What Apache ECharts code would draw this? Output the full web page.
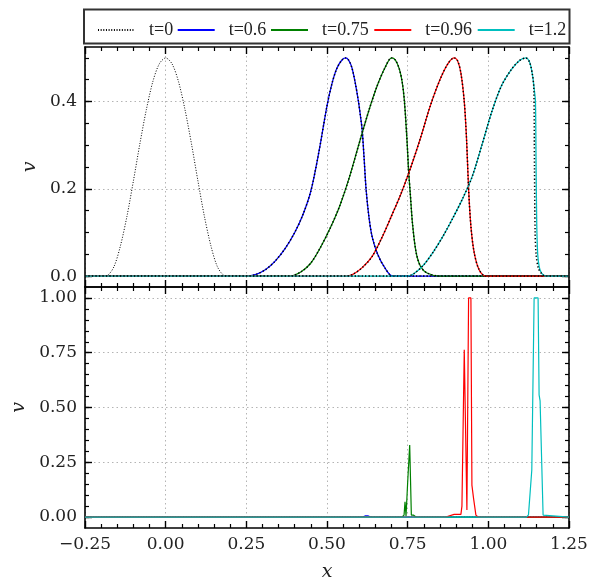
<!DOCTYPE html>
<html><head><meta charset="utf-8">
<script src="https://cdn.jsdelivr.net/npm/echarts@6/dist/echarts.min.js"></script>
<style>html,body{margin:0;padding:0;background:#fff}#c{width:606px;height:583px}</style>
</head><body><div id="c"></div>
<script>
// ---------- data ----------
const seriesNames = ['t=0', 't=0.6', 't=0.75', 't=0.96', 't=1.2'];
const xTickLabels = ['−0.25', '0.00', '0.25', '0.50', '0.75', '1.00', '1.25'];
const topYTicks = [0, 0.2, 0.4];
const topYMinor = [0,0.05,0.1,0.15,0.2,0.25,0.3,0.35,0.4,0.45,0.5];
const botYTicks = [0, 0.25, 0.5, 0.75, 1.0];
const botYMinor = [0,0.05,0.1,0.15,0.2,0.25,0.3,0.35,0.4,0.45,0.5,0.55,0.6,0.65,0.7,0.75,0.8,0.85,0.9,0.95,1.0];

// top panel: v(x)
const t0X = [-0.25,-0.2,-0.18,-0.16,-0.14,-0.12,-0.1,-0.08,-0.06,-0.04,-0.02,0,0.02,0.04,0.06,0.08,0.1,0.12,0.14,0.16,0.18,0.2,1.25];
const t0V = [0,0,0.002,0.022,0.07,0.137,0.218,0.303,0.381,0.445,0.486,0.5,0.486,0.445,0.381,0.303,0.218,0.137,0.07,0.022,0.002,0,0];

const t06X = [-0.25,0.25,0.28,0.31,0.34,0.37,0.40,0.425,0.45,0.475,0.50,0.515,0.53,0.545,0.557,0.567,0.577,0.587,0.5975,0.604,0.609,0.615,0.621,0.63,0.64,0.657,0.68,0.704,1.25];
const t06V = [0,0,0.004,0.015,0.035,0.063,0.1,0.14,0.195,0.285,0.39,0.44,0.475,0.494,0.5,0.495,0.478,0.445,0.4,0.365,0.335,0.27,0.2,0.135,0.09,0.05,0.018,0,0];

const t075X = [-0.25,0.384,0.42,0.45,0.48,0.51,0.54,0.57,0.60,0.63,0.655,0.68,0.70,0.712,0.724,0.733,0.74,0.748,0.753,0.758,0.765,0.776,0.79,0.81,0.848,1.25];
const t075V = [0,0,0.01,0.03,0.066,0.11,0.162,0.228,0.305,0.38,0.435,0.478,0.5,0.495,0.475,0.445,0.4,0.31,0.24,0.19,0.12,0.055,0.022,0.007,0,0];

const t096X = [-0.25,0.559,0.58,0.61,0.64,0.67,0.70,0.73,0.76,0.79,0.82,0.85,0.875,0.8945,0.905,0.915,0.9254,0.9326,0.9388,0.946,0.9563,0.9718,0.9924,1.25];
const t096V = [0,0,0.004,0.02,0.045,0.088,0.138,0.19,0.25,0.317,0.39,0.45,0.487,0.5,0.493,0.465,0.4,0.312,0.2,0.114,0.053,0.014,0,0];

const t12X = [-0.25,0.749,0.77,0.80,0.83,0.86,0.89,0.92,0.95,0.98,1.01,1.04,1.07,1.095,1.116,1.128,1.137,1.142,1.146,1.148,1.150,1.153,1.158,1.165,1.178,1.25];
const t12V = [0,0,0.006,0.026,0.056,0.092,0.133,0.177,0.228,0.3,0.375,0.435,0.472,0.493,0.5,0.49,0.46,0.43,0.4,0.25,0.12,0.05,0.02,0.007,0,0];
// exact (dotted) solution at t=1.2 where it separates from the computed one
const t12ExX = [-0.25,0.749,0.77,0.80,0.83,0.86,0.89,0.92,0.95,0.98,1.01,1.04,1.07,1.095,1.116,1.128,1.137,1.141,1.143,1.145,1.148,1.155,1.165,1.178,1.25];
const t12ExV = [0,0,0.006,0.026,0.056,0.092,0.133,0.177,0.228,0.3,0.375,0.435,0.472,0.493,0.5,0.49,0.46,0.43,0.25,0.1,0.05,0.018,0.006,0,0];

// bottom panel
const b0X = [-0.25, 1.25];
const b0V = [0, 0];
const b06X = [-0.25,0.61,0.618,0.628,0.636,1.25];
const b06V = [0,0,0.005,0.005,0,0];
const b075X = [-0.25,0.7326,0.7388,0.7418,0.7449,0.7501,0.7521,0.7563,0.7614,0.7676,0.7758,1.25];
const b075V = [0,0,0.009,0.07,0.005,0.1615,0.154,0.329,0.009,0.009,0,0];
const b096X = [-0.25,0.868,0.872,0.894,0.915,0.9182,0.9254,0.9336,0.9388,0.946,0.9491,0.9542,0.9615,0.968,1.25];
const b096V = [0,0,0.008,0.012,0.012,0.05,0.764,0.032,1.0,1.0,0.146,0.085,0.009,0,0];
const b12X = [-0.25,1.118,1.1244,1.1347,1.1419,1.1542,1.1573,1.1604,1.1697,1.1738,1.25];
const b12V = [0,0,0.01,0.215,1.0,1.0,0.558,0.53,0.009,0,0];

// ---------- chart ----------
const FONT = 'DejaVu Serif';
const LFONT = 'Liberation Serif';
const colors = ['#000000', '#0000ff', '#008000', '#ff0000', '#00bfbf'];
const pairs = (xs, vs) => xs.map((x, i) => [x, vs[i]]);
const fmtX = v => { const i = Math.round((v + 0.25) / 0.25); return xTickLabels[i] !== undefined ? xTickLabels[i] : ''; };

function xAx(grid, pos, labels, split) {
  return {
    type: 'value', gridIndex: grid, position: pos, min: -0.25, max: 1.25, interval: 0.25,
    axisLine: { show: true, onZero: false, lineStyle: { color: '#000', width: 1.6 } },
    axisTick: { show: true, inside: true, length: 7, lineStyle: { color: '#000', width: 1.4 } },
    minorTick: { show: true, splitNumber: 5, length: 4, lineStyle: { color: '#000', width: 1.2 } },
    axisLabel: { show: labels, formatter: fmtX, margin: 8, fontFamily: FONT, fontSize: 17, color: '#222' },
    splitLine: { show: split, lineStyle: { color: '#b4b4b4', width: 1, type: [1.5, 3] } },
    name: labels ? 'x' : '', nameLocation: 'middle', nameGap: 35,
    nameTextStyle: { fontFamily: FONT, fontStyle: 'italic', fontSize: 19, color: '#222' }
  };
}
function yAxes(grid, pos, min, max, major, minor, fmt, nameGap) {
  const left = pos === 'left';
  return [{
    type: 'value', gridIndex: grid, position: pos, min: min, max: max,
    axisLine: { show: true, onZero: false, lineStyle: { color: '#000', width: 1.6 } },
    axisTick: { show: true, inside: true, length: 7, customValues: major, lineStyle: { color: '#000', width: 1.4 } },
    minorTick: { show: false },
    axisLabel: { show: left, customValues: major, formatter: fmt, margin: 8, fontFamily: FONT, fontSize: 17, color: '#222' },
    splitLine: { show: left, lineStyle: { color: '#b4b4b4', width: 1, type: [1.5, 3] } },
    name: left ? 'v' : '', nameLocation: 'middle', nameGap: nameGap,
    nameTextStyle: { fontFamily: FONT, fontStyle: 'italic', fontSize: 19, color: '#222' }
  }, {
    type: 'value', gridIndex: grid, position: pos, min: min, max: max,
    axisLine: { show: false, onZero: false },
    axisTick: { show: true, inside: true, length: 4, customValues: minor, lineStyle: { color: '#000', width: 1.2 } },
    minorTick: { show: false },
    axisLabel: { show: false },
    splitLine: { show: false }
  }];
}

const yAxis = [].concat(
  yAxes(0, 'left', -0.025, 0.525, topYTicks, topYMinor, v => v.toFixed(1), 44),
  yAxes(0, 'right', -0.025, 0.525, topYTicks, topYMinor, v => v.toFixed(1), 40),
  yAxes(1, 'left', -0.05, 1.05, botYTicks, botYMinor, v => v.toFixed(2), 56),
  yAxes(1, 'right', -0.05, 1.05, botYTicks, botYMinor, v => v.toFixed(2), 40)
);
const xAxis = [xAx(0, 'bottom', false, true), xAx(0, 'top', false, false), xAx(1, 'bottom', true, true), xAx(1, 'top', false, false)];

function line(name, data, color, xi, yi, extra) {
  return Object.assign({
    name: name, type: 'line', xAxisIndex: xi, yAxisIndex: yi, data: data,
    symbol: 'none', showSymbol: false, animation: false, silent: true,
    lineStyle: { color: color, width: 1.3 }, itemStyle: { color: color }
  }, extra || {});
}
const dotted = { lineStyle: { color: '#000', width: 1.5, type: [1.3, 2.2] }, itemStyle: { color: '#000' } };
const sm = { smooth: 0.3 };

const topData = [pairs(t06X, t06V), pairs(t075X, t075V), pairs(t096X, t096V), pairs(t12X, t12V)];
const topExact = [pairs(t06X, t06V), pairs(t075X, t075V), pairs(t096X, t096V), pairs(t12ExX, t12ExV)];
const botData = [pairs(b06X, b06V), pairs(b075X, b075V), pairs(b096X, b096V), pairs(b12X, b12V)];

const series = [];
series.push(line(seriesNames[0], pairs(t0X, t0V), '#000', 0, 0,
  Object.assign({}, sm, { lineStyle: { color: '#000', width: 1, type: [1, 1.65] } })));
series.push(line(seriesNames[0], pairs(b0X, b0V), '#000', 2, 4,
  { lineStyle: { color: '#000', width: 1, type: [1, 1.65] } }));
for (let i = 0; i < 4; i++) {
  series.push(line(seriesNames[i + 1], topData[i], colors[i + 1], 0, 0, sm));
  series.push(line('exact ' + seriesNames[i + 1], topExact[i], '#000', 0, 0, Object.assign({}, sm, dotted)));
  series.push(line(seriesNames[i + 1], botData[i], colors[i + 1], 2, 4, { lineStyle: { color: colors[i + 1], width: 1.2 } }));
}

const legendLeft = [92, 171.7, 265, 368.3, 471.7];
const legend = seriesNames.map((n, i) => ({
  data: [n], left: legendLeft[i], top: 16, itemWidth: 37, itemHeight: 12, selectedMode: false,
  itemStyle: { opacity: 0, borderWidth: 0 },
  textStyle: { fontFamily: LFONT, fontSize: 18, color: '#222', padding: [0, 0, 0, 9] }
}));

const chart = echarts.init(document.getElementById('c'), null, { renderer: 'canvas' });
chart.setOption({
  animation: false,
  backgroundColor: '#fff',
  grid: [
    { left: 85, right: 37, top: 47, height: 240, outerBoundsMode: 'none', containLabel: false },
    { left: 85, right: 37, top: 287, height: 241, outerBoundsMode: 'none', containLabel: false }
  ],
  xAxis: xAxis,
  yAxis: yAxis,
  legend: legend,
  graphic: [{ type: 'rect', shape: { x: 84, y: 9.5, width: 485.5, height: 34 }, style: { fill: 'none', stroke: '#333', lineWidth: 2 }, z: 10 }],
  series: series
});
</script>
</body></html>
